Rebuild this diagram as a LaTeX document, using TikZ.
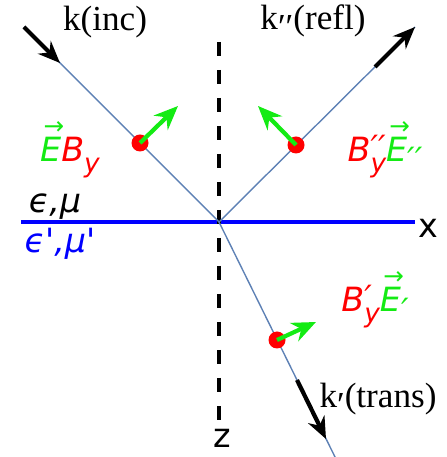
\documentclass[tikz,border=0pt]{standalone}
\usepackage{fontspec}
\setmainfont{Liberation Serif}
\newfontfamily\labelfont{DejaVu Sans}
\usetikzlibrary{arrows.meta,positioning}
\definecolor{raycol}{RGB}{94,129,181}
\definecolor{fieldgreen}{RGB}{20,235,20}
\newcommand\vecE{\leavevmode\makebox[0pt][l]{\raisebox{1.5ex}{\kern0.1em\fontsize{7}{7}\selectfont →}}E}
\newcommand\Bsub[1]{B\rlap{\raisebox{0.15ex}{#1}}\raisebox{-0.6ex}{\fontsize{7.5}{7.5}\selectfont y}}
\newcommand\lowpr[1]{\raisebox{-0.55ex}{#1}}
\tikzset{
  ray/.style={raycol, line width=0.4pt},
  kvec/.style={-{Stealth[length=2.2mm,width=1.8mm]}, line width=1.2pt},
  evec/.style={fieldgreen, -{Stealth[length=2.4mm,width=2mm]}, line width=1.2pt},
  bdot/.style={circle, fill=red, inner sep=0pt, minimum size=1.7mm},
  klabel/.style={font=\fontsize{10}{12}\selectfont},
  mlabel/.style={font=\labelfont\itshape\fontsize{9.5}{11}\selectfont},
  axlabel/.style={font=\labelfont\fontsize{9.5}{11}\selectfont},
}
\begin{document}
\begin{tikzpicture}
\useasboundingbox (-2.19,-2.35) rectangle (2.27,2.22);
% interface and normal
\coordinate (O) at (0,0);
\coordinate (il) at (-1.98,0);
\coordinate (ir) at (1.96,0);
\coordinate (zt) at (0,1.80);
\coordinate (zb) at (0,-1.98);
\draw[blue, line width=1.2pt] (il) -- (ir);
\draw[line width=1.2pt, dash pattern=on 0.14cm off 0.14cm] (zt) -- (zb);
% rays
\coordinate (inc) at (-1.95,1.95);
\coordinate (inct) at (-1.59,1.59);
\coordinate (refl) at (1.96,1.95);
\coordinate (refls) at (1.56,1.55);
\coordinate (trans) at (1.17,-2.37);
\coordinate (transs) at (0.78,-1.58);
\coordinate (transt) at (1.07,-2.17);
\draw[ray] (inc) -- (O);
\draw[ray] (O) -- (refl);
\draw[ray] (O) -- (trans);
\draw[kvec] (inc) -- (inct);
\draw[kvec] (refls) -- (refl);
\draw[kvec] (transs) -- (transt);
% fields
\node[bdot] (binc) at (-0.79,0.79) {};
\node[bdot] (brefl) at (0.77,0.77) {};
\node[bdot] (btrans) at (0.58,-1.18) {};
\coordinate (einc) at (-0.41,1.16);
\coordinate (erefl) at (0.39,1.16);
\coordinate (etrans) at (0.97,-1.00);
\draw[evec] (binc.center) -- (einc);
\draw[evec] (brefl.center) -- (erefl);
\draw[evec] (btrans.center) -- (etrans);
% labels
\node[klabel] (kinc) at (-1.14,2.00) {k(inc)};
\node[klabel] (krefl) at (0.94,2.00) {k\lowpr{′′}(refl)};
\node[klabel] (ktrans) at (1.59,-1.78) {k\lowpr{′}(trans)};
\node[mlabel] (linc) at (-1.49,0.72) {\textcolor{fieldgreen}{\vecE}\textcolor{red}{\Bsub{}}};
\node[mlabel] (lrefl) at (1.66,0.72) {\textcolor{red}{\Bsub{′′}}\textcolor{fieldgreen}{\vecE\lowpr{′′}}};
\node[mlabel] (ltrans) at (1.56,-0.78) {\textcolor{red}{\Bsub{′}}\textcolor{fieldgreen}{\vecE\lowpr{′}}};
\node[mlabel] (med1) at (-1.64,0.15) {ϵ,μ};
\node[mlabel, blue] (med2) at (-1.59,-0.22) {ϵ\textquotesingle,μ\textquotesingle};
\node[axlabel] (xl) at (2.09,-0.06) {x};
\node[axlabel] (zl) at (0.03,-2.16) {z};
\end{tikzpicture}
\end{document}
